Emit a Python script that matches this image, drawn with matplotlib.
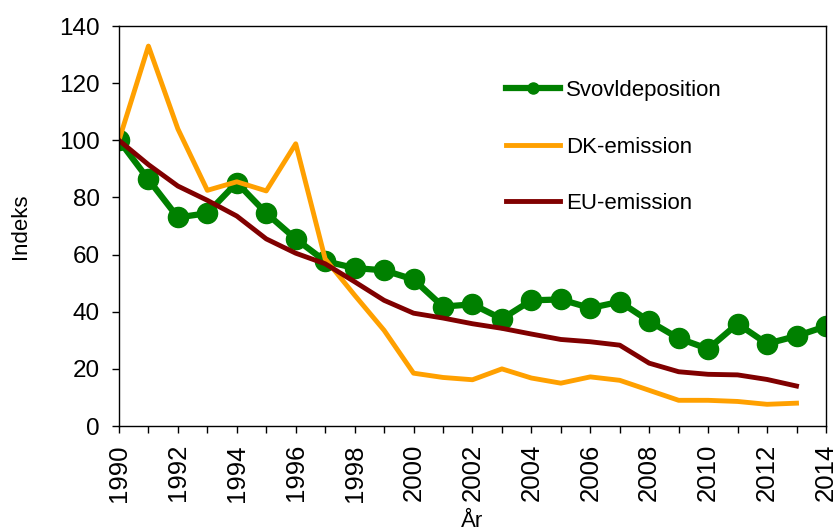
import matplotlib.pyplot as plt

plt.rcParams['font.family'] = ['Liberation Sans', 'DejaVu Sans']

years = list(range(1990, 2015))
svovl = [100, 86.3, 73, 74.5, 85.2, 74.5, 65.5, 57.7, 55.3, 54.5, 51.3, 41.8, 42.6, 37.5,
         44, 44.3, 41.3, 43.5, 36.7, 30.7, 27, 35.8, 28.8, 31.5, 34.9]
dk_years = list(range(1990, 2014))
dk = [100, 133, 104, 82.5, 85.5, 82.3, 98.8, 58.5, 45.8, 33.5, 18.5, 17, 16.2, 20,
      16.8, 15, 17.2, 16, 12.5, 9, 9, 8.6, 7.6, 8]
eu = [100, 91.5, 84, 79, 73.5, 65.5, 60.5, 56.8, 50.5, 44, 39.5, 37.8, 35.8, 34.2,
      32.2, 30.3, 29.5, 28.3, 22, 19, 18.1, 17.9, 16.3, 14]

fig = plt.figure(figsize=(8.36, 5.32), dpi=100)
ax = fig.add_axes([0.1423, 0.1992, 0.8457, 0.7518])

ax.plot(years, svovl, color='#008000', lw=4.5, marker='o', ms=14.5, label='Svovldeposition')
ax.plot(dk_years, dk, color='#FFA000', lw=3.5, label='DK-emission')
ax.plot(dk_years, eu, color='#800000', lw=3.5, label='EU-emission')

ax.set_xlim(1990, 2014)
ax.set_ylim(0, 140)
ax.set_yticks(range(0, 141, 20))
ax.set_xticks(years)
ax.set_xticklabels([str(y) if y % 2 == 0 else '' for y in years], rotation=90)
ax.tick_params(axis='both', direction='out', length=5, width=1, colors='black')
ax.tick_params(axis='y', labelsize=17.5, pad=9)
ax.tick_params(axis='x', labelsize=18.5, pad=8)
for s in ax.spines.values():
    s.set_linewidth(1)
    s.set_color('black')

ax.set_ylabel('Indeks', fontsize=16)
ax.yaxis.set_label_coords(-0.1245, 0.5)
ax.set_xlabel('År', fontsize=16, va='top')
ax.xaxis.set_label_coords(0.5, -0.212)

ax.legend(loc='upper left', bbox_to_anchor=(0.547, 0.865), frameon=False, fontsize=16,
          handlelength=2.45, labelspacing=1.6, handletextpad=0.25, markerscale=0.55,
          borderpad=0, borderaxespad=0)

fig.savefig('out.png', dpi=100)
